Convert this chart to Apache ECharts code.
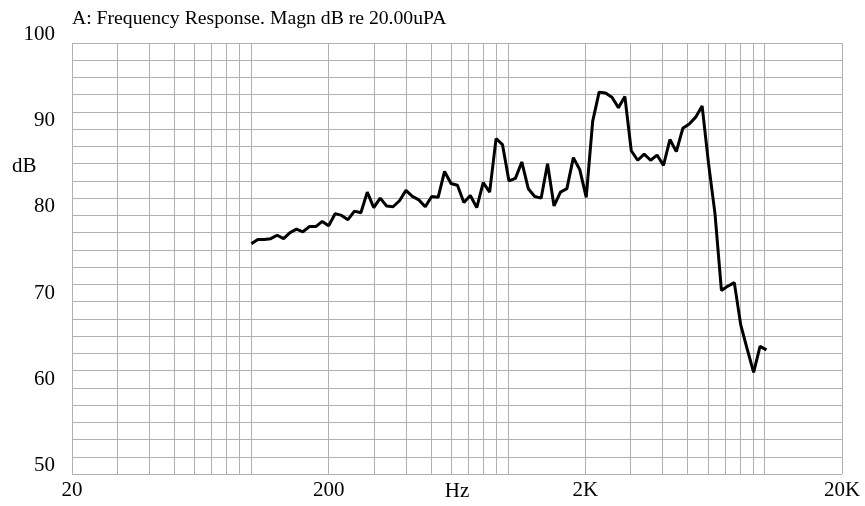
<!DOCTYPE html>
<html>
<head>
<meta charset="utf-8">
<script src="https://cdn.jsdelivr.net/npm/echarts@6/dist/echarts.min.js"></script>
<style>html,body{margin:0;padding:0;background:#fff}#c{width:865px;height:506px}</style>
</head>
<body>
<div id="c"></div>
<script>
// Frequencies (Hz), 1/12-octave points
var freqs = [100,105.9,112.2,118.9,126.0,133.5,141.4,149.8,158.7,168.2,178.2,188.8,
  200,211.9,224.5,237.8,252.0,267.0,282.8,299.7,317.5,336.4,356.4,377.6,
  400,423.8,449.0,475.7,504.0,534.0,565.7,599.3,635.0,672.7,712.7,755.1,
  800,847.6,898.0,951.4,1008,1068,1131,1199,1270,1345,1425,1510,
  1600,1695,1796,1903,2016,2136,2263,2397,2540,2691,2851,3020,
  3200,3390,3592,3805,4032,4271,4525,4795,5080,5382,5702,6041,
  6400,6780,7184,7611,8063,8543,9051,9589,10159];
// Magnitude (dB re 20uPA)
var magDb = [76.7,77.2,77.2,77.3,77.7,77.3,78.0,78.4,78.1,78.7,78.7,79.3,
  78.8,80.2,80.0,79.5,80.5,80.3,82.7,80.9,82.0,81.1,81.0,81.7,
  82.9,82.2,81.8,81.0,82.2,82.1,85.1,83.7,83.5,81.5,82.3,80.9,
  83.8,82.7,88.9,88.2,84.0,84.3,86.2,83.1,82.2,82.0,86.0,81.1,
  82.7,83.1,86.7,85.3,82.1,90.9,94.3,94.2,93.7,92.5,93.8,87.5,
  86.4,87.1,86.4,87.0,85.8,88.8,87.4,90.1,90.6,91.4,92.7,86.0,
  80.2,71.3,71.8,72.2,67.3,64.5,61.8,64.8,64.4];
// Vertical grid positions and x tick labels
var gridFreqs = [20,30,40,50,60,70,80,90,100,200,300,400,500,600,700,800,900,
  1000,2000,3000,4000,5000,6000,7000,8000,9000,10000,20000];
var xLabelFreqs = [20,200,2000,20000];

var FONT = 'Liberation Serif';
var seriesData = freqs.map(function (f, i) { return [f, magDb[i]]; });

var chart = echarts.init(document.getElementById('c'), null, {renderer: 'canvas'});
chart.setOption({
  backgroundColor: '#fff',
  animation: false,
  title: [
    {text: 'A: Frequency Response. Magn dB re 20.00uPA', left: 67, top: 4,
     textStyle: {fontFamily: FONT, fontSize: 19.7, fontWeight: 'normal', color: '#000'}},
    {text: 'dB', left: 7, top: 151,
     textStyle: {fontFamily: FONT, fontSize: 21, fontWeight: 'normal', color: '#000'}}
  ],
  grid: {left: 72, right: 23, top: 43, bottom: 32, outerBoundsMode: 'none'},
  xAxis: {
    type: 'log', logBase: 10, min: 20, max: 20000,
    name: 'Hz', nameLocation: 'middle', nameGap: 7, nameMoveOverlap: false,
    nameTextStyle: {fontFamily: FONT, fontSize: 21, color: '#000'},
    axisLine: {show: false},
    axisTick: {show: false, customValues: gridFreqs},
    axisLabel: {
      customValues: xLabelFreqs, margin: 6,
      fontFamily: FONT, fontSize: 21, color: '#000',
      formatter: function (v) { return v >= 1000 ? (v / 1000) + 'K' : String(v); }
    },
    splitLine: {show: true, lineStyle: {color: '#b0b0b0', width: 1}}
  },
  yAxis: {
    type: 'value', min: 50, max: 100, interval: 2,
    axisLine: {show: false},
    axisTick: {show: false},
    axisLabel: {
      margin: 17, fontFamily: FONT, fontSize: 21, color: '#000',
      verticalAlign: 'bottom', lineHeight: 17,
      formatter: function (v) { return v % 10 === 0 ? String(v) : ''; }
    },
    splitLine: {show: true, lineStyle: {color: '#b0b0b0', width: 1}}
  },
  series: [{
    type: 'line', data: seriesData, showSymbol: false, symbol: 'none',
    lineStyle: {color: '#000', width: 3}, z: 3
  }]
});
</script>
</body>
</html>
